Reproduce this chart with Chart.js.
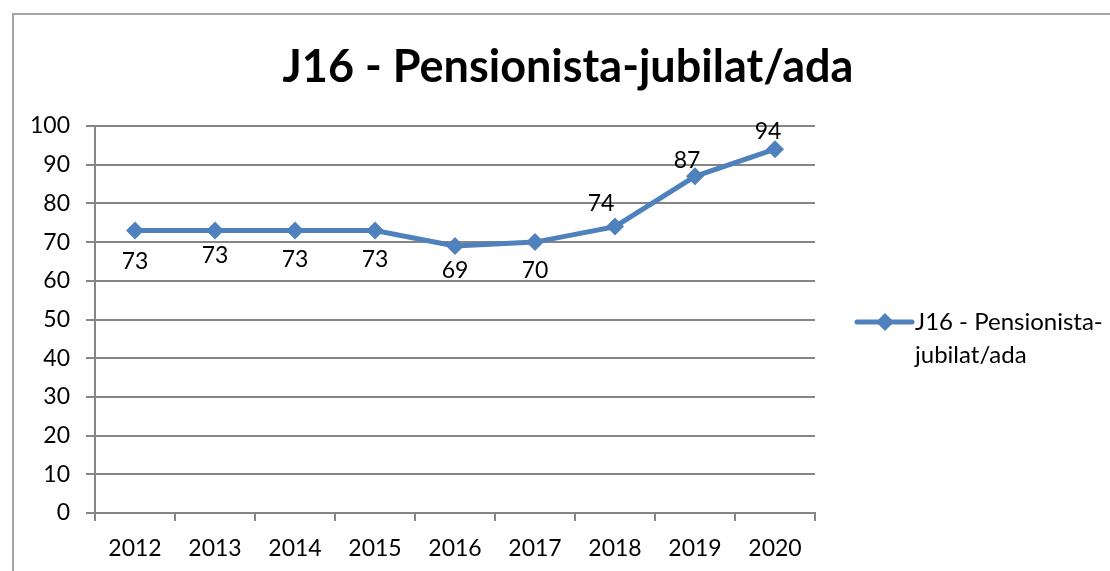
<!DOCTYPE html>
<html><head><meta charset="utf-8">
<script src="https://cdn.jsdelivr.net/npm/chart.js@4"></script>
<style>
html,body{margin:0;padding:0;background:#fff;overflow:hidden}
#wrap{position:relative;width:1110px;height:571px}
#frame{position:absolute;left:12px;top:13px;width:1200px;height:700px;border-left:2px solid #a6a6a6;border-top:2px solid #a6a6a6;box-sizing:border-box}
canvas{position:absolute;left:0;top:0}
</style></head>
<body><div id="wrap"><div id="frame"></div><canvas id="c" width="1110" height="571"></canvas></div>
<script>
const title = "J16 - Pensionista-jubilat/ada";
const seriesName = "J16 - Pensionista-jubilat/ada";
const legendLines = ["J16 - Pensionista-", "jubilat/ada"];
const years = ["2012","2013","2014","2015","2016","2017","2018","2019","2020"];
const values = [73, 73, 73, 73, 69, 70, 74, 87, 94];
const yTicks = [0,10,20,30,40,50,60,70,80,90,100];

const FONT = "Lato, 'Open Sans', sans-serif";
const BLUE = "#4F81BD";

const labelPlugin = {
  id: 'labels',
  afterDatasetsDraw(chart, args, opts) {
    const ctx = chart.ctx;
    const meta = chart.getDatasetMeta(0);
    ctx.save();
    ctx.font = "23px " + FONT;
    ctx.fillStyle = "#000";
    ctx.textAlign = "center";
    ctx.textBaseline = "middle";
    meta.data.forEach((pt, i) => {
      ctx.fillText(String(values[i]), pt.x + opts.dx[i], pt.y + opts.dy[i]);
    });
    ctx.restore();
  }
};
const titlePlugin = {
  id: 'ttl',
  afterDraw(chart, args, opts) {
    const ctx = chart.ctx;
    ctx.save();
    ctx.font = "bold 45px " + FONT;
    ctx.fillStyle = "#000";
    ctx.textAlign = "center";
    ctx.textBaseline = "middle";
    ctx.fillText(title, opts.x, opts.y);
    // legend
    const lx = opts.lx, ly = opts.ly;
    ctx.strokeStyle = BLUE; ctx.lineWidth = 5; ctx.lineCap = "round";
    ctx.beginPath(); ctx.moveTo(lx, ly); ctx.lineTo(lx + 55, ly); ctx.stroke();
    ctx.fillStyle = BLUE;
    ctx.beginPath();
    const cx = lx + 28, r = 9;
    ctx.moveTo(cx, ly - r); ctx.lineTo(cx + r, ly); ctx.lineTo(cx, ly + r); ctx.lineTo(cx - r, ly); ctx.closePath(); ctx.fill();
    ctx.fillStyle = "#000";
    ctx.font = "24px " + FONT;
    ctx.textAlign = "left";
    legendLines.forEach((t, i) => ctx.fillText(t, lx + 58, ly + i * 33));
    ctx.restore();
  }
};

new Chart(document.getElementById('c'), {
  type: 'line',
  data: {
    labels: years,
    datasets: [{
      label: seriesName,
      data: values,
      borderColor: BLUE,
      backgroundColor: BLUE,
      borderWidth: 5,
      pointStyle: 'rectRot',
      pointRadius: 9,
      pointHoverRadius: 9,
      pointBorderWidth: 0,
      tension: 0
    }]
  },
  options: {
    responsive: false,
    animation: false,
    events: [],
    layout: { padding: { left: 0, top: 126, right: 295, bottom: 0 } },
    plugins: {
      legend: { display: false },
      title: { display: false },
      tooltip: { enabled: false },
      labels: {
        dx: [0, 0, 0, 0, 0, 0, -14, -8, -7],
        dy: [31, 25, 29, 29, 25, 28, -23, -16, -18]
      },
      ttl: { x: 568, y: 67, lx: 857, ly: 322 }
    },
    scales: {
      x: {
        offset: true,
        afterFit: s => { s.height = 58; },
        grid: { offset: true, drawOnChartArea: false, drawTicks: true, tickLength: 8, color: '#868686', lineWidth: 2 },
        border: { color: '#868686', width: 2 },
        ticks: { color: '#000', font: { family: FONT, size: 23 }, padding: 14, maxRotation: 0, autoSkip: false }
      },
      y: {
        min: 0, max: 100,
        afterFit: s => { s.width = 95; },
        afterBuildTicks: s => { s.ticks = yTicks.map(v => ({ value: v })); },
        grid: { color: '#868686', lineWidth: 2, tickLength: 9, drawTicks: true },
        border: { color: '#868686', width: 2 },
        ticks: { color: '#000', font: { family: FONT, size: 23 }, padding: 16 }
      }
    }
  },
  plugins: [labelPlugin, titlePlugin]
});
</script>
</body></html>
